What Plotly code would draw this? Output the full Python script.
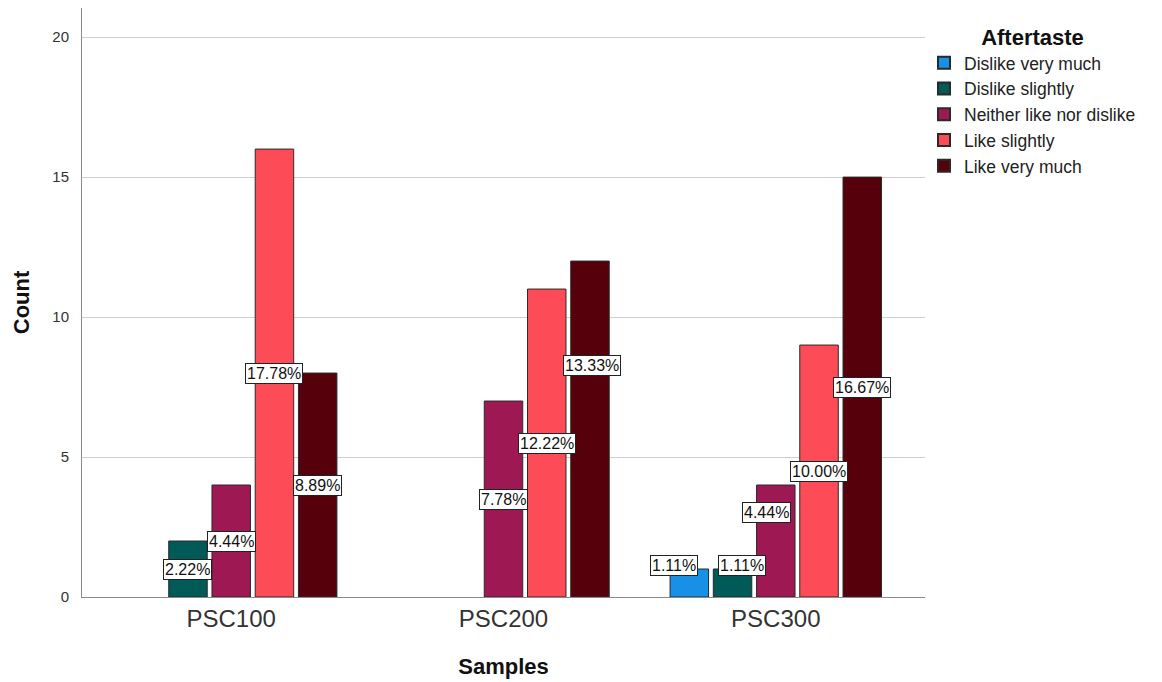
import plotly.graph_objects as go

samples = ["PSC100", "PSC200", "PSC300"]
responses = ["Dislike very much", "Dislike slightly", "Neither like nor dislike",
             "Like slightly", "Like very much"]
counts = {
    "Dislike very much":        [0, 0, 1],
    "Dislike slightly":         [2, 0, 1],
    "Neither like nor dislike": [4, 7, 4],
    "Like slightly":            [16, 11, 9],
    "Like very much":           [8, 12, 15],
}
colors = ["#1790e6", "#005b58", "#9e1853", "#fd4c57", "#55000a"]

# pixel nudges for labels that the original moved to avoid collisions
label_nudge = {
    ("Dislike very much", "PSC300"): (-15, 18),
    ("Dislike slightly", "PSC300"): (9, 18),
    ("Neither like nor dislike", "PSC300"): (-9, 29),
    ("Like very much", "PSC200"): (2, 64),
}

FONT = "Liberation Sans, Arial, sans-serif"
total = sum(sum(v) for v in counts.values())
x_idx = list(range(len(samples)))

BARGAP = 0.206
GROUPGAP = 0.11
n = len(responses)

fig = go.Figure()
annotations = []
for i, (resp, col) in enumerate(zip(responses, colors)):
    vals = counts[resp]
    fig.add_trace(go.Bar(
        x=x_idx, y=[v if v > 0 else None for v in vals], name=resp,
        marker=dict(color=col, line=dict(color="#2a2a2a", width=1)),
        hoverinfo="x+y+name",
    ))
    slot = (1 - BARGAP) / n
    off = -(1 - BARGAP) / 2 + (i + 0.5) * slot
    for xi, v in zip(x_idx, vals):
        if v > 0:
            dx, dy = label_nudge.get((resp, samples[xi]), (0, 0))
            annotations.append(dict(
                x=xi + off, y=v / 2, xref="x", yref="y",
                xshift=dx, yshift=dy,
                text=f"{v / total * 100:.2f}%", showarrow=False,
                font=dict(family=FONT, size=16, color="#111"),
                bgcolor="white", bordercolor="#222", borderwidth=1, borderpad=1,
            ))

# the page body adds an 8px offset; figure is sized to compensate
fig.update_layout(
    width=1154, height=674,
    margin=dict(l=74, r=237, t=0, b=85),
    paper_bgcolor="white", plot_bgcolor="white",
    barmode="group", bargap=BARGAP, bargroupgap=GROUPGAP,
    font=dict(family=FONT, color="#222"),
    annotations=annotations,
    showlegend=True,
    legend=dict(
        x=0.9988, y=0.986, xanchor="left", yanchor="top",
        title=dict(text="<b>Aftertaste</b>", side="top center",
                   font=dict(family=FONT, size=22, color="#111")),
        font=dict(family=FONT, size=17.5, color="#222"),
        itemsizing="constant", traceorder="normal", itemwidth=30,
        bgcolor="rgba(0,0,0,0)",
    ),
    xaxis=dict(
        tickmode="array", tickvals=x_idx, ticktext=samples,
        range=[-0.548, 2.548], showgrid=False, zeroline=False, automargin=False,
        showline=True, linecolor="#8a8a8a", linewidth=1,
        ticks="", tickfont=dict(family=FONT, size=24, color="#333"),
        title=dict(text="<b>Samples</b>", font=dict(family=FONT, size=22, color="#111"),
                   standoff=27),
    ),
    yaxis=dict(
        range=[0, 21.04], tickvals=[0, 5, 10, 15, 20], automargin=False,
        showgrid=True, gridcolor="#cfcfcf", gridwidth=1, zeroline=False,
        showline=True, linecolor="#8a8a8a", linewidth=1,
        ticks="", ticklabelstandoff=9, tickfont=dict(family=FONT, size=15, color="#333"),
        title=dict(text="<b>Count</b>", font=dict(family=FONT, size=22, color="#111"),
                   standoff=16),
    ),
)

fig.write_html("out.html")
